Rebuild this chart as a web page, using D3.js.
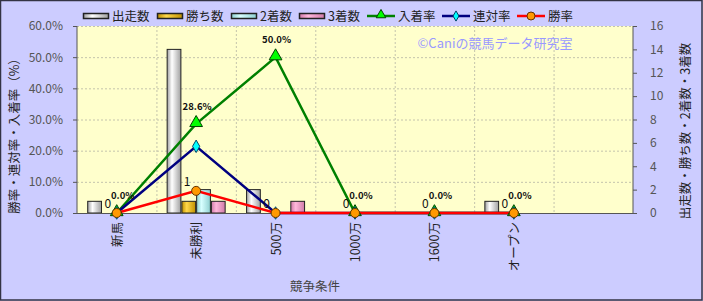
<!DOCTYPE html>
<html><head><meta charset="utf-8">
<script src="https://cdn.jsdelivr.net/npm/d3@7"></script>
<style>body{margin:0;background:#ccccff}svg{display:block}text{font-family:"Noto Sans CJK JP","DejaVu Sans",sans-serif}</style>
</head><body>
<script>
const categories = ["新馬","未勝利","500万","1000万","1600万","オープン",""];
const starts   = [1,14,2,0,0,1,null];
const wins     = [0,1,0,0,0,0,null];
const seconds  = [0,2,0,0,0,0,null];
const thirds   = [0,1,1,0,0,0,null];
const placeRate = [0,28.6,50.0,0,0,0,null];
const quinellaRate = [0,21.4,0,0,0,0,null];
const winRate  = [0,7.1,0,0,0,0,null];
const leftTicks = [0,10,20,30,40,50,60];
const rightTicks = [0,2,4,6,8,10,12,14,16];

const W=703,H=301;
const svg=d3.select("body").append("svg").attr("width",W).attr("height",H);
svg.append("rect").attr("x",0.5).attr("y",0.5).attr("width",W-1.5).attr("height",H-1.5).attr("fill","#ccccff").attr("stroke","#333344").attr("stroke-width",1.5);

const L=77,R=633,T=26,B=213;
const x=d3.scaleBand().domain(categories.map((c,i)=>i)).range([L,R]);
const yL=d3.scaleLinear().domain([0,60]).range([B,T]);
const yR=d3.scaleLinear().domain([0,16]).range([B,T]);

const defs=svg.append("defs");
function grad(id,dark,light){
  const g=defs.append("linearGradient").attr("id",id).attr("x1","0").attr("x2","1").attr("y1","0").attr("y2","0");
  g.append("stop").attr("offset","0").attr("stop-color",dark);
  g.append("stop").attr("offset","0.35").attr("stop-color",light);
  g.append("stop").attr("offset","1").attr("stop-color",dark);
}
grad("g0","#a0a0a0","#ffffff");
grad("g1","#c09000","#ffd84a");
grad("g2","#8fd0d0","#d8ffff");
grad("g3","#d07aa8","#ffb8dc");

svg.append("rect").attr("x",L).attr("y",T).attr("width",R-L).attr("height",B-T).attr("fill","#ffffcc");

// grid
const grid=svg.append("g").attr("stroke","#c4c4ac").attr("stroke-dasharray","2,2").attr("stroke-width",1);
leftTicks.slice(1).forEach(t=>grid.append("line").attr("x1",L).attr("x2",R).attr("y1",yL(t)+0.5).attr("y2",yL(t)+0.5));
categories.forEach((c,i)=>{ if(i>0) grid.append("line").attr("x1",x(i)+0.5).attr("x2",x(i)+0.5).attr("y1",T).attr("y2",B);});

// watermark
svg.append("text").attr("x",495).attr("y",48).attr("text-anchor","middle").attr("fill","#9999ff").attr("font-size",13).text("©Caniの競馬データ研究室");

// bars
const series=[starts,wins,seconds,thirds];
const inner=d3.scaleBand().domain([0,1,2,3]).range([0,59]);
const bw=x.bandwidth(), off=(bw-59)/2;
series.forEach((s,k)=>{
  svg.append("g").selectAll("rect").data(s.map((v,i)=>({v,i})).filter(d=>d.v>0)).join("rect")
    .attr("x",d=>x(d.i)+off+inner(k)+0.5).attr("width",inner.bandwidth()-1)
    .attr("y",d=>yR(d.v)).attr("height",d=>B-yR(d.v))
    .attr("fill",`url(#g${k})`).attr("stroke","#222").attr("stroke-width",1);
});

// axes
const ax=svg.append("g");
ax.append("line").attr("x1",L).attr("x2",L).attr("y1",T).attr("y2",B).attr("stroke","#555");
ax.append("line").attr("x1",R).attr("x2",R).attr("y1",T).attr("y2",B).attr("stroke","#555");
ax.append("line").attr("x1",L).attr("x2",R).attr("y1",B+0.5).attr("y2",B+0.5).attr("stroke","#555");
const la=svg.append("g").attr("transform",`translate(${L},0)`).call(d3.axisLeft(yL).tickValues(leftTicks).tickSize(4).tickFormat(d=>d.toFixed(1)+"%"));
const ra=svg.append("g").attr("transform",`translate(${R},0)`).call(d3.axisRight(yR).tickValues(rightTicks).tickSize(4).tickPadding(13));
[la,ra].forEach(a=>{a.select(".domain").remove();a.selectAll("line").attr("stroke","#555");a.selectAll("text").attr("fill","#555").attr("font-size",12).attr("font-family","Liberation Sans, Arial, sans-serif");});
la.selectAll("text").attr("dx",-7);

// x labels
svg.append("g").selectAll("text").data(categories).join("text")
  .attr("transform",(d,i)=>`translate(${x(i)+bw/2+5},222) rotate(-90)`)
  .attr("text-anchor","end").attr("font-size",12.5).attr("fill","#222").text(d=>d);

// titles
svg.append("text").attr("x",315).attr("y",291).attr("text-anchor","middle").attr("font-size",12.5).attr("fill","#444").text("競争条件");
svg.append("text").attr("transform","translate(19,133) rotate(-90)").attr("text-anchor","middle").attr("font-size",12.5).attr("fill","#222").text("勝率・連対率・入着率（%）");
svg.append("text").attr("transform","translate(690,131) rotate(-90)").attr("text-anchor","middle").attr("font-size",12.5).attr("fill","#222").text("出走数・勝ち数・2着数・3着数");

// lines
const cx=i=>x(i)+bw/2;
function lineSeries(vals,color){
  const pts=vals.map((v,i)=>({v,i})).filter(d=>d.v!=null);
  svg.append("path").datum(pts).attr("fill","none").attr("stroke",color).attr("stroke-width",2.5)
    .attr("d",d3.line().x(d=>cx(d.i)).y(d=>yL(d.v)));
  return pts;
}
const pP=lineSeries(placeRate,"#008000");
const pQ=lineSeries(quinellaRate,"#000080");
const pW=lineSeries(winRate,"#ff0000");
svg.append("g").selectAll("path").data(pP).join("path")
  .attr("transform",d=>`translate(${cx(d.i)},${yL(d.v)-1})`)
  .attr("d",d3.symbol(d3.symbolTriangle,70)).attr("fill","#00ff00").attr("stroke","#004400").attr("stroke-width",1);
svg.append("g").selectAll("path").data(pQ).join("path")
  .attr("transform",d=>`translate(${cx(d.i)},${yL(d.v)})`)
  .attr("d",d3.symbol(d3.symbolDiamond,45)).attr("fill","#00ffff").attr("stroke","#004466").attr("stroke-width",1);
svg.append("g").selectAll("circle").data(pW).join("circle")
  .attr("cx",d=>cx(d.i)).attr("cy",d=>yL(d.v)).attr("r",4.5).attr("fill","#ff9900").attr("stroke","#663300").attr("stroke-width",1);

// labels
svg.append("g").selectAll("text").data(pP).join("text")
  .attr("x",d=>cx(d.i)+(d.v===0?6:1)).attr("y",d=>yL(d.v)-14).attr("text-anchor","middle").attr("font-size",9.5).attr("font-weight","bold").attr("font-family","DejaVu Sans, sans-serif").attr("fill","#111")
  .text(d=>d.v.toFixed(1)+"%");
svg.append("g").selectAll("text").data(pW).join("text")
  .attr("x",d=>cx(d.i)-9).attr("y",d=>yL(d.v)-5).attr("text-anchor","middle").attr("font-size",12).attr("font-family","Liberation Sans, Arial, sans-serif").attr("fill","#111")
  .text(d=>wins[d.i]);

// legend
const lg=svg.append("g");
const boxes=[["出走数",83,"g0"],["勝ち数",157,"g1"],["2着数",231,"g2"],["3着数",299,"g3"]];
boxes.forEach(([t,px,g])=>{
  lg.append("rect").attr("x",px+0.5).attr("y",13.5).attr("width",25).attr("height",5).attr("fill",`url(#${g})`).attr("stroke","#222").attr("stroke-width",1.5);
  lg.append("text").attr("x",px+29).attr("y",21).attr("font-size",12.5).attr("fill","#222").text(t);
});
const lines=[["入着率",367,"#008000","tri"],["連対率",442,"#000080","dia"],["勝率",517,"#ff0000","cir"]];
lines.forEach(([t,px,c,m])=>{
  lg.append("line").attr("x1",px).attr("x2",px+28).attr("y1",16).attr("y2",16).attr("stroke",c).attr("stroke-width",2.5);
  const mx=px+14;
  if(m==="tri") lg.append("path").attr("transform",`translate(${mx},15)`).attr("d",d3.symbol(d3.symbolTriangle,40)).attr("fill","#00ff00").attr("stroke","#004400");
  if(m==="dia") lg.append("path").attr("transform",`translate(${mx},16)`).attr("d",d3.symbol(d3.symbolDiamond,30)).attr("fill","#00ffff").attr("stroke","#004466");
  if(m==="cir") lg.append("circle").attr("cx",mx).attr("cy",16).attr("r",4).attr("fill","#ff9900").attr("stroke","#663300");
  lg.append("text").attr("x",px+31).attr("y",21).attr("font-size",12.5).attr("fill","#222").text(t);
});
</script>
</body></html>
